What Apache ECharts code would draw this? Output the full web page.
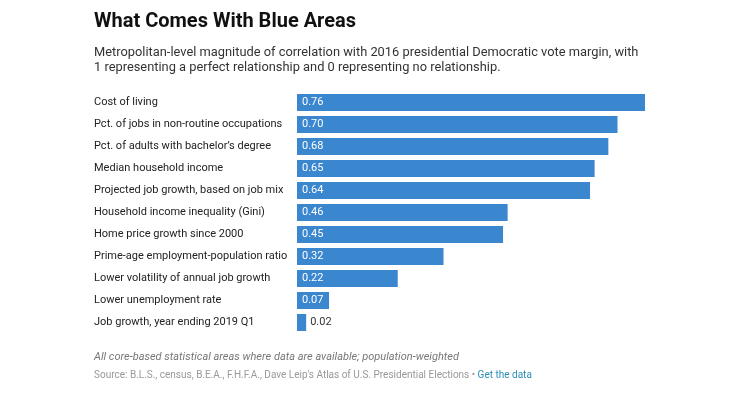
<!DOCTYPE html>
<html><head><meta charset="utf-8">
<script src="https://cdn.jsdelivr.net/npm/echarts@6/dist/echarts.min.js"></script>
<style>html,body{margin:0;padding:0;background:#fff}#c{width:750px;height:398px}</style>
</head><body><div id="c"></div>
<script>
const categories = [
  "Cost of living",
  "Pct. of jobs in non-routine occupations",
  "Pct. of adults with bachelor’s degree",
  "Median household income",
  "Projected job growth, based on job mix",
  "Household income inequality (Gini)",
  "Home price growth since 2000",
  "Prime-age employment-population ratio",
  "Lower volatility of annual job growth",
  "Lower unemployment rate",
  "Job growth, year ending 2019 Q1"
];
const values = [0.76, 0.70, 0.68, 0.65, 0.64, 0.46, 0.45, 0.32, 0.22, 0.07, 0.02];

const FONT = 'Roboto, "Noto Sans", sans-serif';
const chart = echarts.init(document.getElementById('c'), null, {renderer: 'canvas'});
chart.setOption({
  animation: false,
  textStyle: {fontFamily: FONT},
  graphic: [
    {type: 'text', left: 94, top: 12, style: {text: 'What Comes With Blue Areas', font: 'bold 20px ' + FONT, fill: '#111'}},
    {type: 'text', left: 94, top: 45, style: {text: 'Metropolitan-level magnitude of correlation with 2016 presidential Democratic vote margin, with\n1 representing a perfect relationship and 0 representing no relationship.', font: '12.85px ' + FONT, fill: '#333', lineHeight: 15.5}},
    {type: 'text', left: 94, top: 351.5, style: {text: 'All core-based statistical areas where data are available; population-weighted', font: 'italic 11px ' + FONT, fill: '#777'}},
    {type: 'text', left: 94, top: 370, style: {rich: {a: {fill: '#999', font: '10px ' + FONT}, b: {fill: '#2a8fb8', font: '10px ' + FONT}}, text: '{a|Source: B.L.S., census, B.E.A., F.H.F.A., Dave Leip\'s Atlas of U.S. Presidential Elections • }{b|Get the data}'}}
  ],
  grid: {left: 297, top: 91.5, height: 242, right: 86.7, containLabel: false},
  xAxis: {type: 'value', min: 0, max: 0.8, show: false},
  yAxis: {
    type: 'category', data: categories, inverse: true,
    axisLine: {show: false}, axisTick: {show: false},
    axisLabel: {align: 'left', margin: 203, color: '#222', fontSize: 11, fontFamily: FONT}
  },
  series: [{
    type: 'bar', data: values.map(v => ({
      value: v,
      label: v < 0.05 ? {position: 'right', color: '#333', distance: 4} : {}
    })),
    barWidth: 17,
    itemStyle: {color: '#3a86cf'},
    label: {show: true, position: 'insideLeft', color: '#fff', fontSize: 11, fontFamily: FONT, distance: 5,
      formatter: p => p.value.toFixed(2)}
  }]
});
</script></body></html>
